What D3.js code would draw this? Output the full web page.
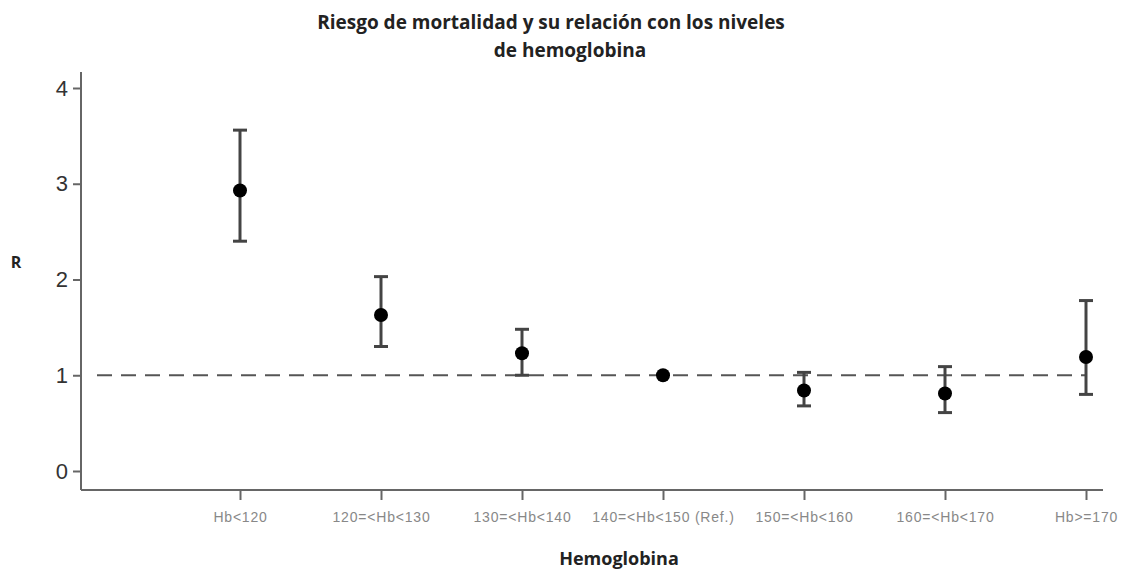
<!DOCTYPE html>
<html lang="es">
<head>
<meta charset="UTF-8">
<title>Riesgo de mortalidad</title>
<script src="https://cdnjs.cloudflare.com/ajax/libs/d3/7.6.1/d3.min.js"></script>
<style>
  body { margin: 0; background: #fff; }
</style>
</head>
<body>
<svg id="chart" width="1126" height="572"></svg>
<script>
// categories and values
const categories = ["Hb<120", "120=<Hb<130", "130=<Hb<140", "140=<Hb<150 (Ref.)", "150=<Hb<160", "160=<Hb<170", "Hb>=170"];
const riskValues = [2.93, 1.63, 1.23, 1.00, 0.84, 0.81, 1.19];
const lowerCI    = [2.40, 1.30, 1.00, null, 0.68, 0.61, 0.80];
const upperCI    = [3.56, 2.03, 1.48, null, 1.03, 1.09, 1.78];
const yTicks = [0, 1, 2, 3, 4];

const svg = d3.select("#chart");

const x = d3.scalePoint().domain(categories).range([240, 1086]);
const y = d3.scaleLinear().domain([0, 4]).range([471, 88]);

const axisColor = "#666";
const titleFont = "'Open Sans', sans-serif";

// title
svg.append("text")
    .attr("x", 551).attr("y", 29)
    .attr("text-anchor", "middle")
    .style("font-family", titleFont)
    .style("font-weight", "bold")
    .style("font-size", "19px")
    .style("fill", "#222")
    .text("Riesgo de mortalidad y su relación con los niveles");
svg.append("text")
    .attr("x", 570).attr("y", 57)
    .attr("text-anchor", "middle")
    .style("font-family", titleFont)
    .style("font-weight", "bold")
    .style("font-size", "19px")
    .style("fill", "#222")
    .text("de hemoglobina");

// y axis
const yAxis = svg.append("g")
    .attr("transform", "translate(81,0)")
    .call(d3.axisLeft(y).tickValues(yTicks).tickFormat(d3.format("d")).tickSize(8).tickPadding(5));
yAxis.select(".domain").attr("d", "M0,72V490");
yAxis.selectAll("path, line").attr("stroke", axisColor).attr("stroke-width", 2);
yAxis.selectAll("text")
    .style("font-family", "Arial, 'Liberation Sans', sans-serif")
    .style("font-size", "22px")
    .style("fill", "#333");

// x axis
const xAxis = svg.append("g")
    .attr("transform", "translate(0,490)")
    .call(d3.axisBottom(x).tickSize(10).tickPadding(12));
xAxis.select(".domain").attr("d", "M81,0H1103");
xAxis.selectAll("path, line").attr("stroke", axisColor).attr("stroke-width", 2);
xAxis.selectAll("text")
    .style("font-family", "Arial, 'Liberation Sans', sans-serif")
    .style("font-size", "14px")
    .style("letter-spacing", "0.8px")
    .style("fill", "#888");

// axis titles
svg.append("text")
    .attr("x", 16).attr("y", 268)
    .attr("text-anchor", "middle")
    .style("font-family", titleFont)
    .style("font-weight", "bold")
    .style("font-size", "16px")
    .style("fill", "#222")
    .text("R");
svg.append("text")
    .attr("x", 619).attr("y", 565)
    .attr("text-anchor", "middle")
    .style("font-family", titleFont)
    .style("font-weight", "bold")
    .style("font-size", "18px")
    .style("fill", "#222")
    .text("Hemoglobina");

// reference line at R = 1
svg.append("line")
    .attr("x1", 97).attr("x2", x(categories[categories.length - 1]))
    .attr("y1", y(1)).attr("y2", y(1))
    .attr("stroke", "#555")
    .attr("stroke-width", 2)
    .attr("stroke-dasharray", "15,9");

const rows = categories.map((c, i) => ({ cat: c, v: riskValues[i], lo: lowerCI[i], hi: upperCI[i] }));
const withCI = rows.filter(d => d.lo !== null);
const capW = 7;

// error bars
const eb = svg.append("g").attr("stroke", "#444").attr("stroke-width", 3);
eb.selectAll(".stem").data(withCI).join("line")
    .attr("x1", d => x(d.cat)).attr("x2", d => x(d.cat))
    .attr("y1", d => y(d.lo)).attr("y2", d => y(d.hi));
eb.selectAll(".capTop").data(withCI).join("line")
    .attr("x1", d => x(d.cat) - capW).attr("x2", d => x(d.cat) + capW)
    .attr("y1", d => y(d.hi)).attr("y2", d => y(d.hi));
eb.selectAll(".capBot").data(withCI).join("line")
    .attr("x1", d => x(d.cat) - capW).attr("x2", d => x(d.cat) + capW)
    .attr("y1", d => y(d.lo)).attr("y2", d => y(d.lo));

// points
svg.append("g").selectAll("circle").data(rows).join("circle")
    .attr("cx", d => x(d.cat))
    .attr("cy", d => y(d.v))
    .attr("r", 7)
    .attr("fill", "#000");
</script>
</body>
</html>
